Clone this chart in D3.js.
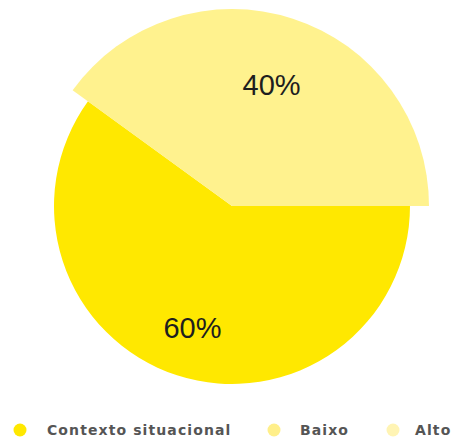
<!DOCTYPE html>
<html><head><meta charset="utf-8">
<script src="https://cdn.jsdelivr.net/npm/d3@7"></script>
<style>html,body{margin:0;padding:0;background:#fff;}svg{display:block;}</style>
</head><body>
<svg id="chart" width="454" height="437"></svg>
<script>
const sliceNames = ["Contexto situacional", "Baixo"];
const sliceValues = [60, 40];
const sliceLabels = ["60%", "40%"];
const legendNames = ["Contexto situacional", "Baixo", "Alto"];
const legendColors = ["#FFE800", "#FFEF8A", "#FFF4B4"];
const sliceColors = ["#FFE800", "#FFF28E"];

const svg = d3.select("#chart");
const cx = 232, cy = 206;
const radii = [178, 197];

const pie = d3.pie().sort(null).value(d => d)
  .startAngle(Math.PI / 2).endAngle(Math.PI / 2 + 2 * Math.PI);
const arcs = pie(sliceValues);

const g = svg.append("g").attr("transform", `translate(${cx},${cy})`);
g.selectAll("path").data(arcs).enter().append("path")
  .attr("d", (d, i) => d3.arc().innerRadius(0).outerRadius(radii[i])(d))
  .attr("fill", (d, i) => sliceColors[i]);

const labelArc = d3.arc().innerRadius(128).outerRadius(128);
g.selectAll("text.lbl").data(arcs).enter().append("text")
  .attr("class", "lbl")
  .attr("x", d => labelArc.centroid(d)[0])
  .attr("y", d => labelArc.centroid(d)[1])
  .attr("dy", "0.36em")
  .attr("text-anchor", "middle")
  .attr("font-family", "Liberation Sans, Arial, sans-serif")
  .attr("font-size", 29)
  .attr("fill", "#1e1e1e")
  .text((d, i) => sliceLabels[i]);

const legendCx = [20, 274, 393];
const legendTx = [47, 300, 415];
const lg = svg.append("g");
legendNames.forEach((name, i) => {
  lg.append("circle").attr("cx", legendCx[i]).attr("cy", 430).attr("r", 6.5)
    .attr("fill", legendColors[i]);
  lg.append("text").attr("x", legendTx[i]).attr("y", 435)
    .attr("font-family", "DejaVu Sans, sans-serif")
    .attr("font-weight", "bold")
    .attr("font-size", 14)
    .attr("letter-spacing", 1.1)
    .attr("fill", "#555")
    .text(name);
});
</script>
</body></html>
